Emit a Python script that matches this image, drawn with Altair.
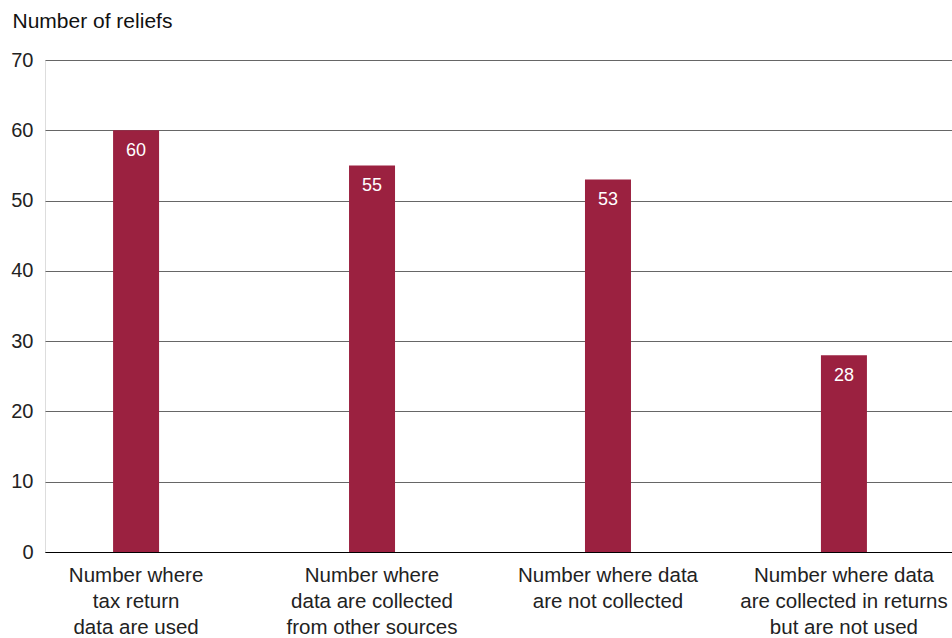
import altair as alt
import pandas as pd

categories = [
    "Number where\ntax return\ndata are used",
    "Number where\ndata are collected\nfrom other sources",
    "Number where data\nare not collected",
    "Number where data\nare collected in returns\nbut are not used",
]
values = [60, 55, 53, 28]

df = pd.DataFrame({"idx": list(range(len(categories))), "cat": categories, "val": values})

W, H = 907, 492
FONT = "Liberation Sans"
BAR = "#9b2140"

xscale = alt.Scale(domain=[-0.386, 3.458], nice=False, zero=False, padding=0)
yscale = alt.Scale(domain=[0, 70], nice=False, padding=0)

base = alt.Chart(df)

bars = base.mark_bar(color=BAR, size=46).encode(
    x=alt.X("idx:Q", scale=xscale,
            axis=alt.Axis(labels=False, ticks=False, grid=False, title=None,
                          domain=True, domainColor="#000000", domainWidth=1)),
    y=alt.Y("val:Q", scale=yscale,
            axis=alt.Axis(values=[0, 10, 20, 30, 40, 50, 60, 70], grid=True,
                          gridColor="#666666", gridWidth=1, domain=False, ticks=False,
                          labelFont=FONT, labelFontSize=20, labelColor="#222222",
                          labelPadding=12,
                          title="Number of reliefs", titleAngle=0, titleX=-33, titleY=-33,
                          titleAlign="left", titleBaseline="alphabetic",
                          titleFont=FONT, titleFontSize=21, titleFontWeight="normal",
                          titleColor="#111111")),
)

vals = base.mark_text(color="white", font=FONT, fontSize=18, fontWeight=500,
                      baseline="middle", dy=21).encode(
    x=alt.X("idx:Q", scale=xscale),
    y=alt.Y("val:Q", scale=yscale),
    text=alt.Text("val:Q"),
)

labels = base.mark_text(color="#222222", font=FONT, fontSize=20.5, baseline="top",
                        lineBreak="\n", lineHeight=26, align="center").encode(
    x=alt.X("idx:Q", scale=xscale),
    y=alt.value(H + 14),
    text="cat:N",
)

chart = (
    alt.layer(bars, vals, labels)
    .properties(width=W, height=H,
                autosize=alt.AutoSizeParams(type="none"),
                padding={"left": 45, "top": 60, "right": 0, "bottom": 86})
    .configure_view(stroke=None)
    .configure(background="white")
)

chart.save("out.html", embed_options={"renderer": "svg", "actions": False})
